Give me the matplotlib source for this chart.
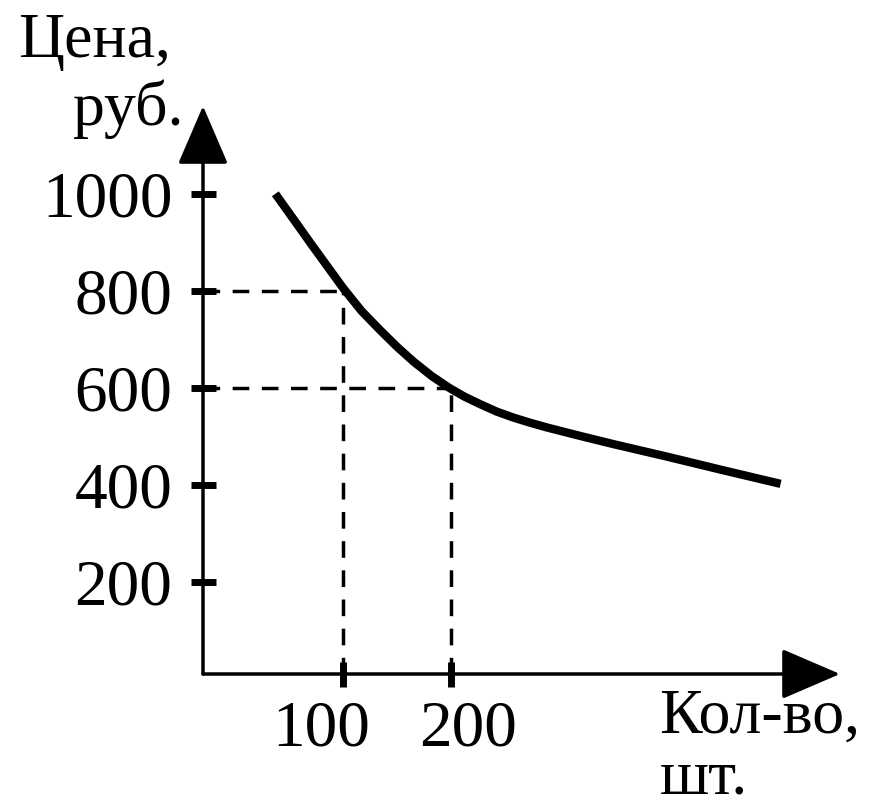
import matplotlib
matplotlib.use('Agg')
import matplotlib.pyplot as plt
import matplotlib.transforms as mtransforms

# values
qty = [37, 55, 70, 85, 100, 117, 134, 150, 165, 182, 198, 212, 227, 242,
       257, 273, 289, 319, 350, 400, 450, 505]
price = [1000, 944, 897, 851, 805, 758, 719, 684, 654, 624, 600, 582, 566, 551,
         539, 528, 518, 501, 484, 458, 431, 402]

y_ticks = [200, 400, 600, 800, 1000]
x_ticks = [100, 200]
x_label_shift = [-22, 17]  # px, labels sit slightly off their ticks

# dashed guide points on the curve
guide_x = [100, 200]
guide_y = [800, 600]

plt.rcParams['font.family'] = ['Liberation Serif', 'DejaVu Serif']
plt.rcParams['lines.scale_dashes'] = False

W, H = 882, 810
fig = plt.figure(figsize=(W / 100, H / 100), dpi=100)
ax = fig.add_axes([203 / W, 1 - 674 / H, 637 / W, 568 / H])
ax.set_xlim(-30, 560)
ax.set_ylim(10, 1181)

for s in ax.spines.values():
    s.set_visible(False)

# axes with arrowheads
arrow = dict(arrowstyle='-|>,head_length=0.93,head_width=0.4', mutation_scale=40,
             lw=2.5, color='black', shrinkA=0, shrinkB=0)
ax.annotate('', xy=(0, 1), xytext=(0, 0), xycoords='axes fraction',
            textcoords='axes fraction', arrowprops=arrow, annotation_clip=False)
ax.annotate('', xy=(1, 0), xytext=(0, 0), xycoords='axes fraction',
            textcoords='axes fraction', arrowprops=arrow, annotation_clip=False)

# dashed guides
x0, y0 = ax.get_xlim()[0], ax.get_ylim()[0]
for gx, gy in zip(guide_x, guide_y):
    ax.plot([x0, gx], [gy, gy], color='black', lw=2.5, dashes=(12, 9))
    ax.plot([gx, gx], [y0, gy], color='black', lw=2.5, dashes=(12, 9))

ax.plot(qty, price, color='black', lw=6, solid_capstyle='butt',
        solid_joinstyle='round')

ax.set_xticks(x_ticks)
ax.set_yticks(y_ticks)
ax.set_xticklabels([str(v) for v in x_ticks])
ax.set_yticklabels([str(v) for v in y_ticks])
ax.tick_params(axis='both', direction='inout', length=18, width=5, labelsize=47)
ax.tick_params(axis='y', pad=13)
ax.tick_params(axis='x', pad=10)

for lab, dx in zip(ax.get_xticklabels(), x_label_shift):
    lab.set_transform(lab.get_transform() +
                      mtransforms.ScaledTranslation(dx / 100, 0, fig.dpi_scale_trans))

fs = 46
fig.text(18 / W, 1 - 57 / H, 'Цена,', fontsize=fs, ha='left', va='baseline')
fig.text(183 / W, 1 - 125 / H, 'руб.', fontsize=fs, ha='right', va='baseline')
fig.text(659 / W, 1 - 733 / H, 'Кол-во,', fontsize=fs, ha='left', va='baseline')
fig.text(660 / W, 1 - 808 / H, 'шт.', fontsize=fs, ha='left', va='bottom')

fig.savefig('out.png', dpi=100)
